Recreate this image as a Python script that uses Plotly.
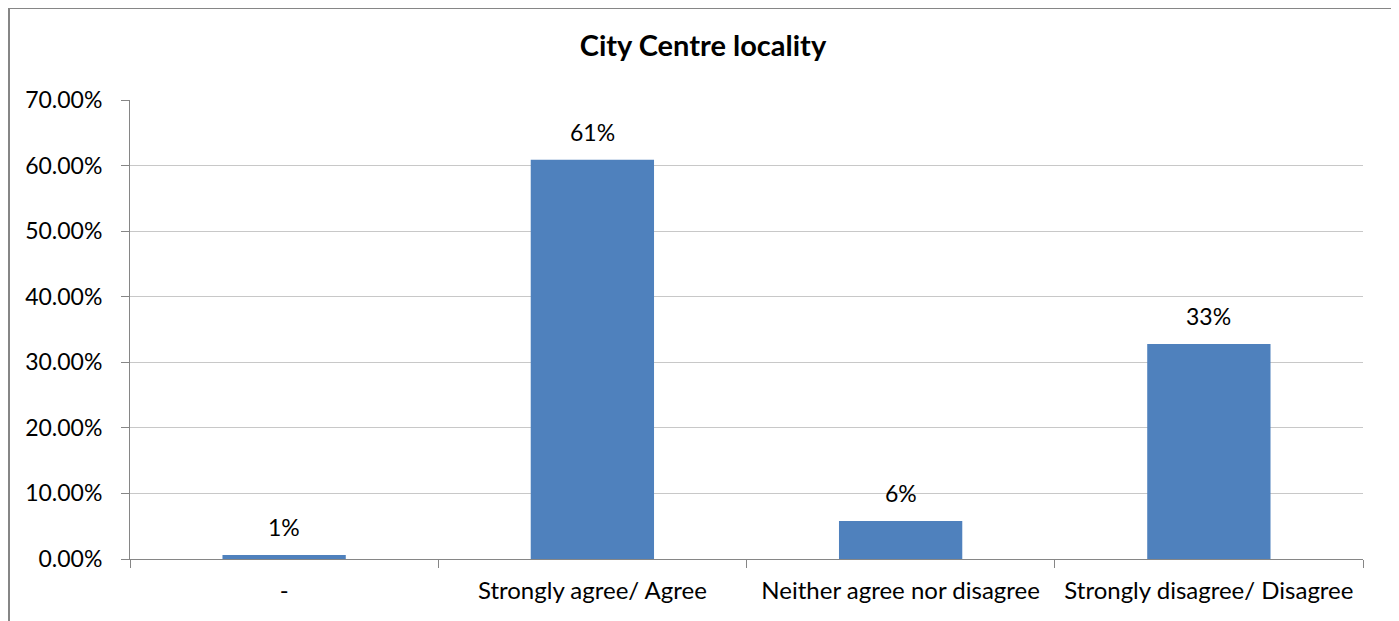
import plotly.graph_objects as go

categories = ["-", "Strongly agree/ Agree", "Neither agree nor disagree", "Strongly disagree/ Disagree"]
values = [0.006, 0.609, 0.058, 0.328]
title_text = "City Centre locality"
tick_vals = [0, 0.1, 0.2, 0.3, 0.4, 0.5, 0.6, 0.7]

FONT = "Lato, Carlito, Calibri, sans-serif"

# page body has an 8px margin, so the figure starts at (8, 8) on screen
OFF = 8
W, H = 1399 - OFF, 621 - OFF
L, T = 130 - OFF, 100 - OFF
PW, PH = 1233, 459
R, B = W - L - PW, H - T - PH

fig = go.Figure(go.Bar(
    x=categories, y=values,
    marker=dict(color="#4f81bd", line=dict(width=0)),
))

for c, v in zip(categories, values):
    fig.add_annotation(
        x=c, y=v, xref="x", yref="y", text=f"{v:.0%}", showarrow=False,
        yanchor="bottom", yshift=12, font=dict(size=23, family=FONT, color="#000000"),
    )

def px(x):
    return (x - OFF - L) / PW

def py(y):
    return (H - B - (y - OFF)) / PH

fig.update_layout(
    width=W, height=H,
    margin=dict(l=L, r=R, t=T, b=B),
    paper_bgcolor="white", plot_bgcolor="white",
    bargap=0.6,
    showlegend=False,
    font=dict(family=FONT, size=23, color="#000000"),
    title=dict(text="<b>" + title_text + "</b>", x=px(703), xref="paper", xanchor="center",
               yref="container", y=1 - (46 - OFF) / H, yanchor="middle",
               font=dict(size=29, family=FONT)),
    xaxis=dict(
        showgrid=False, showline=True, linecolor="#868686", linewidth=1,
        ticks="outside", tickson="boundaries", ticklen=8, tickcolor="#868686",
        ticklabelstandoff=10,
        tickfont=dict(size=24), fixedrange=True,
    ),
    yaxis=dict(
        range=[0, 0.7], tickvals=tick_vals, tickformat=".2%",
        showgrid=True, gridcolor="#c8c8c8", gridwidth=1,
        showline=True, linecolor="#868686", linewidth=1,
        ticks="outside", ticklen=8, tickcolor="#868686",
        ticklabelstandoff=14,
        tickfont=dict(size=23), zeroline=False, fixedrange=True,
    ),
    shapes=[dict(
        type="rect", xref="paper", yref="paper",
        x0=px(9), x1=px(1392), y0=py(660), y1=py(8),
        line=dict(color="#868686", width=2), fillcolor="rgba(0,0,0,0)", layer="below",
    )],
)

fig.write_html("out.html")
